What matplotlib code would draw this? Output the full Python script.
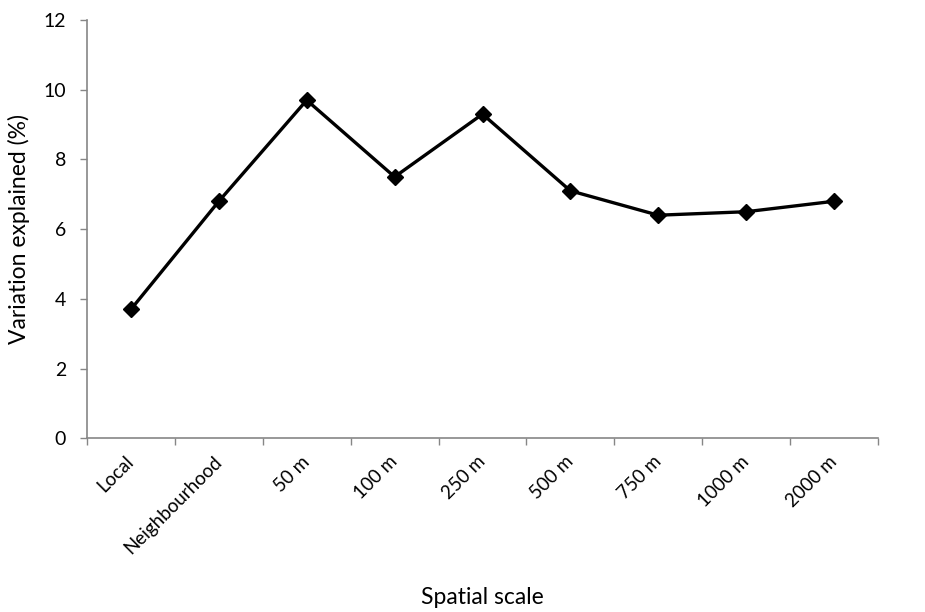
import numpy as np
import matplotlib
matplotlib.use("Agg")
from matplotlib import pyplot as plt
from matplotlib.ticker import FixedLocator, NullFormatter

scales = ["Local", "Neighbourhood", "50 m", "100 m", "250 m",
          "500 m", "750 m", "1000 m", "2000 m"]
variation = [3.7, 6.8, 9.7, 7.5, 9.3, 7.1, 6.4, 6.5, 6.8]
y_ticks = [0, 2, 4, 6, 8, 10, 12]

plt.rcParams["font.family"] = ["Lato", "DejaVu Sans"]
AXIS_GREY = "#868686"

fig = plt.figure(figsize=(9.25, 6.12), dpi=100)
ax = fig.add_axes([87 / 925, 1 - 438.3 / 612, (878 - 87) / 925, (438.3 - 20) / 612])

x = np.arange(len(scales))
ax.plot(x, variation, color="black", linewidth=2.4, marker="D",
        markersize=8, markerfacecolor="black", markeredgecolor="black")

ax.set_xlim(-0.5, len(scales) - 0.5)
ax.set_ylim(0, 12)

# category boundaries get the tick marks, labels sit at the centres
ax.xaxis.set_major_locator(FixedLocator(np.arange(len(scales) + 1) - 0.5))
ax.xaxis.set_major_formatter(NullFormatter())
ax.xaxis.set_minor_locator(FixedLocator(x))
ax.set_xticklabels(scales, minor=True, rotation=45, ha="right",
                   va="center", rotation_mode="anchor", fontsize=13.5)
ax.tick_params(axis="x", which="minor", length=0, pad=15)
ax.tick_params(axis="x", which="major", length=5, width=1.0,
               color=AXIS_GREY, direction="out")

ax.set_yticks(y_ticks)
ax.tick_params(axis="y", length=5, width=1.0, color=AXIS_GREY,
               direction="out", labelsize=14, pad=10)

for side in ["top", "right"]:
    ax.spines[side].set_visible(False)
for side in ["left", "bottom"]:
    ax.spines[side].set_color(AXIS_GREY)
    ax.spines[side].set_linewidth(1.2)

ax.set_ylabel("Variation explained (%)", fontsize=16.5, labelpad=10)
fig.text(482 / 925, 1 - 598 / 612, "Spatial scale", fontsize=16.5,
         ha="center", va="center")

fig.savefig("out.png", dpi=100)
